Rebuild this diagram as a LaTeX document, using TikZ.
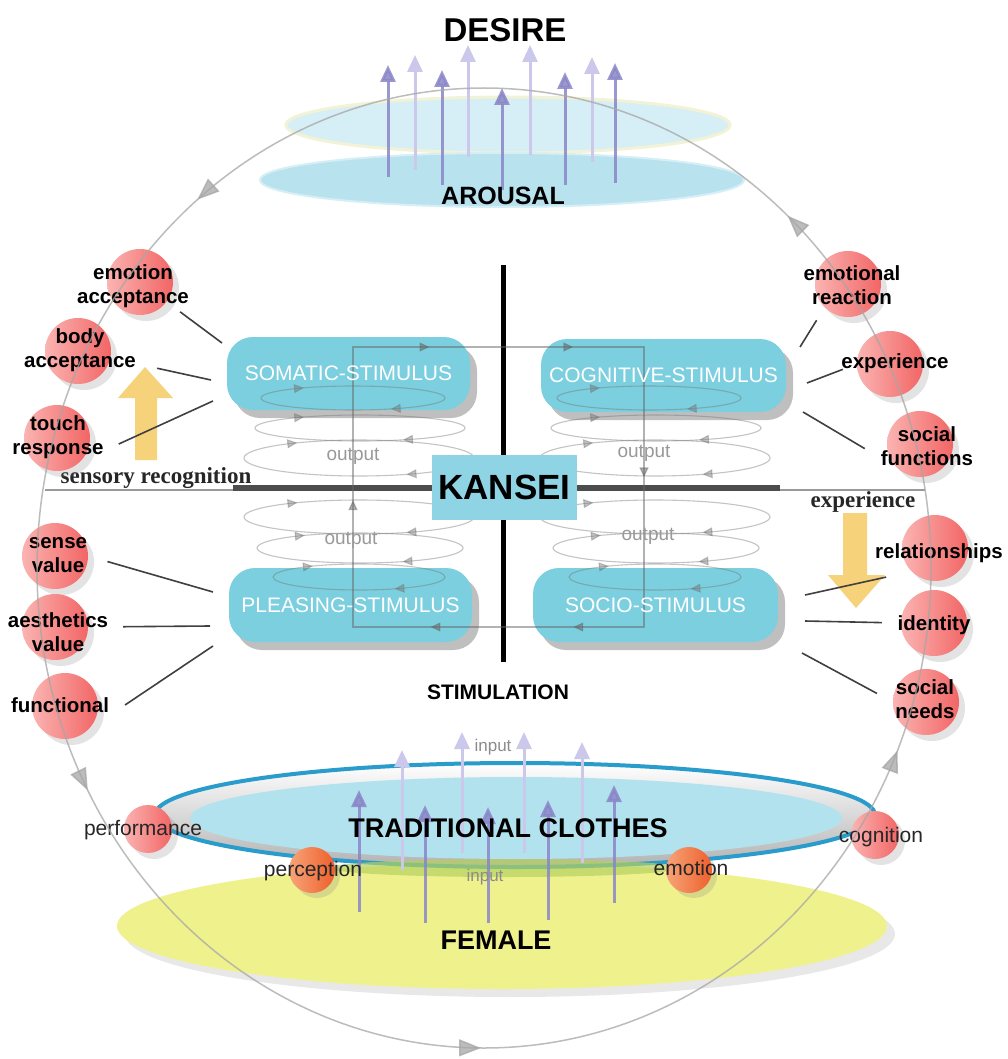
\documentclass[tikz,border=0pt]{standalone}
\usepackage{fontspec}
\setmainfont{Liberation Sans}
\newfontfamily\serifbf{Liberation Serif}
\usetikzlibrary{arrows.meta,shadows,decorations.markings}
\definecolor{boxc}{HTML}{7CCFDF}
\definecolor{kanc}{HTML}{8FD4E5}
\definecolor{pinkL}{HTML}{FAB4B2}
\definecolor{pinkR}{HTML}{F26565}
\definecolor{orgL}{HTML}{F7A478}
\definecolor{orgR}{HTML}{EE5F2C}
\definecolor{topup}{HTML}{D6EEF5}
\definecolor{toprim}{HTML}{F2F2D6}
\definecolor{toplow}{HTML}{B8E2EE}
\definecolor{purD}{HTML}{8A86C8}
\definecolor{purL}{HTML}{CBC8EC}
\definecolor{yelc}{HTML}{EFF28C}
\definecolor{ringb}{HTML}{2A9CCB}
\definecolor{innb}{HTML}{B3E2EF}
\definecolor{yarr}{HTML}{F6D27A}
\definecolor{greenb}{HTML}{B5D060}
\begin{document}
\begin{tikzpicture}[x=1pt,y=-1pt,
  ball/.style={circle, minimum size=66pt, inner sep=0pt, left color=pinkL, right color=pinkR,
    drop shadow={shadow xshift=6pt, shadow yshift=-6pt, opacity=.22}},
  sball/.style={ball, minimum size=48pt},
  oball/.style={circle, minimum size=46pt, inner sep=0pt, left color=orgL, right color=orgR,
    drop shadow={shadow xshift=5pt, shadow yshift=-5pt, opacity=.22}},
  plabel/.style={font=\fontsize{20.5}{24}\selectfont\bfseries, align=center, inner sep=0pt, text=black},
  stim/.style={rounded corners=26pt, fill=boxc, minimum width=243pt, minimum height=73pt,
    drop shadow={shadow xshift=7pt, shadow yshift=-8pt, opacity=.5}},
  stimtext/.style={font=\fontsize{21}{24}\selectfont, text=white, inner sep=0pt},
  conn/.style={draw=black!75, line width=1.6pt},
  loopst/.style={draw=black!55, line width=1.1pt, opacity=.42, postaction={decorate},
    decoration={markings,
      mark=at position 0.15 with {\arrow{Triangle[length=10pt,width=9pt]}},
      mark=at position 0.62 with {\arrow{Triangle[length=10pt,width=9pt]}}}},
  rectst/.style={draw=black!60, line width=1.2pt, opacity=.5, postaction={decorate},
    decoration={markings,
      mark=at position 0.067 with {\arrow{Triangle[length=10pt,width=9pt]}},
      mark=at position 0.193 with {\arrow{Triangle[length=10pt,width=9pt]}},
      mark=at position 0.369 with {\arrow{Triangle[length=10pt,width=9pt]}},
      mark=at position 0.562 with {\arrow{Triangle[length=10pt,width=9pt]}},
      mark=at position 0.687 with {\arrow{Triangle[length=10pt,width=9pt]}},
      mark=at position 0.866 with {\arrow{Triangle[length=10pt,width=9pt]}}}},
  bigc/.style={draw=black!35, line width=1.5pt, opacity=.75, postaction={decorate},
    decoration={markings,
      mark=at position 0.064 with {\arrowreversed{Triangle[length=22pt,width=17pt]}},
      mark=at position 0.251 with {\arrowreversed{Triangle[length=22pt,width=17pt]}},
      mark=at position 0.421 with {\arrowreversed{Triangle[length=22pt,width=17pt]}},
      mark=at position 0.642 with {\arrowreversed{Triangle[length=22pt,width=17pt]}},
      mark=at position 0.866 with {\arrowreversed{Triangle[length=22pt,width=17pt]}}}},
  pup/.style={line width=3pt, -{Triangle[length=17pt,width=15pt]}},
  outl/.style={font=\fontsize{19}{22}\selectfont, text=black!40, inner sep=0pt},
  inl/.style={font=\fontsize{17}{20}\selectfont, text=black!45, inner sep=0pt},
  title/.style={font=\fontsize{#1}{#1}\selectfont\bfseries, inner sep=0pt, text=black},
  small/.style={font=\fontsize{21}{24}\selectfont, inner sep=0pt, text=black!85},
  serl/.style={font=\fontsize{23}{26}\selectfont\serifbf\bfseries, inner sep=0pt, text=black!85},
]
\useasboundingbox[fill=white] (0,0) rectangle (1008,1059);

% ---------- top: arousal / desire ----------
\path[fill=topup, draw=toprim, line width=3pt] (508,125) ellipse [x radius=222, y radius=28];
\path[fill=toplow, draw=topup, line width=2pt] (502,180) ellipse [x radius=242, y radius=27];
\foreach \x/\a/\b in {415/170/55, 468/157/45, 530/155/45, 592/162/57}
  \draw[pup, purL] (\x,\a) -- (\x,\b);
\foreach \x/\a/\b in {388/177/65, 442/185/70, 502/190/88, 565/185/72, 615/183/63}
  \draw[pup, purD, opacity=.85] (\x,\a) -- (\x,\b);
\node[title=33] (desire) at (505,30) {DESIRE};
\node[title=25] (arousal) at (503,196) {AROUSAL};

% ---------- yellow arrows ----------
\fill[yarr] (135,460) -- (135,398) -- (118,398) -- (145,367) -- (173,398) -- (157,398) -- (157,460) -- cycle;
\fill[yarr] (843,513) -- (867,513) -- (867,575) -- (885,575) -- (856,608) -- (828,575) -- (843,575) -- cycle;

% ---------- cross ----------
\draw[black!40, line width=1.5pt] (45,490) -- (925,490);
\draw[black!70, line width=6pt] (233,488) -- (780,488);
\draw[black, line width=5pt] (503,265) -- (503,662);

% ---------- stimulus boxes ----------
\node[stim] (somatic) at (348.5,373.5) {};
\node[stim, minimum width=245pt] (cognitive) at (663.5,375.5) {};
\node[stim, minimum height=74pt] (pleasing) at (350.5,605) {};
\node[stim, minimum width=245pt, minimum height=74pt] (socio) at (655.5,605) {};

% loops
\foreach \dx in {0,296}{
  \draw[loopst] (353+\dx,398) ellipse [x radius=92, y radius=12];
  \draw[loopst] (360+\dx,428) ellipse [x radius=105, y radius=13];
  \draw[loopst] (359+\dx,458) ellipse [x radius=115, y radius=18];
  \draw[loopst] (359+\dx,517) ellipse [x radius=115, y radius=17];
  \draw[loopst] (360+\dx,548) ellipse [x radius=103, y radius=15];
  \draw[loopst] (359+\dx,577) ellipse [x radius=86, y radius=13];
}
\draw[rectst] (353,347) -- (644,347) -- (644,627) -- (353,627) -- cycle;

\node[stimtext] (somT) at (somatic) {SOMATIC-STIMULUS};
\node[stimtext] (cogT) at (cognitive) {COGNITIVE-STIMULUS};
\node[stimtext] (pleT) at (pleasing) {PLEASING-STIMULUS};
\node[stimtext] (socT) at (socio) {SOCIO-STIMULUS};

\node[outl] (o1) at (353,456) {output};
\node[outl] (o2) at (351,540) {output};
\node[outl] (o3) at (644,453) {output};
\node[outl] (o4) at (648,536) {output};

\node[fill=kanc, minimum width=145pt, minimum height=65pt, inner sep=0pt,
  font=\fontsize{35}{35}\selectfont\bfseries] (kansei) at (504.5,487.5) {KANSEI};

\node[title=21] (stim) at (498,692) {STIMULATION};
\node[serl] (sensrec) at (156,478) {sensory recognition};
\node[serl] (expl) at (863,502) {experience};

% ---------- pink nodes ----------
\node[ball] (ea) at (140,282) {};
\node[ball] (ba) at (78,351) {};
\node[ball] (tr) at (57,438) {};
\node[ball] (sv) at (55,556) {};
\node[ball] (av) at (55,627) {};
\node[ball] (fn) at (65,706) {};
\node[ball] (er) at (848,284) {};
\node[ball] (ex) at (890,364) {};
\node[ball] (sf) at (920,444) {};
\node[ball] (rl) at (935,548) {};
\node[ball] (id) at (934,623) {};
\node[ball] (sn) at (926,702) {};

\node[plabel] (eaT) at (133,286) {emotion\\acceptance};
\node[plabel] (baT) at (80,350) {body\\acceptance};
\node[plabel] (trT) at (58,437) {touch\\response};
\node[plabel] (svT) at (58,555) {sense\\value};
\node[plabel] (avT) at (58,632) {aesthetics\\value};
\node[plabel] (fnT) at (60,705) {functional};
\node[plabel] (erT) at (852,285) {emotional\\reaction};
\node[plabel] (exT) at (895,363) {experience};
\node[plabel] (sfT) at (927,446) {social\\functions};
\node[plabel] (rlT) at (939,553) {relationships};
\node[plabel] (idT) at (934,625) {identity};
\node[plabel] (snT) at (925,699) {social\\needs};

% connector end points at the boxes
\coordinate (pA) at (222,343);
\coordinate (pB) at (211,380);
\coordinate (pC) at (213,401);
\coordinate (pD) at (213,592);
\coordinate (pE) at (210,626);
\coordinate (pF) at (213,646);
\coordinate (pG) at (800,347);
\coordinate (pH) at (807,383);
\coordinate (pI) at (803,412);
\coordinate (pJ) at (805,595);
\coordinate (pK) at (805,621);
\coordinate (pL) at (802,653);

\draw[conn, shorten <=50pt] (ea.center) -- (pA);
\draw[conn, shorten <=81pt] (ba.center) -- (pB);
\draw[conn, shorten <=42pt] (tr.south east) -- (pC);
\draw[conn, shorten <=20pt] (sv.east) -- (pD);
\draw[conn, shorten <=35pt] (av.east) -- (pE);
\draw[conn, shorten <=44pt] (fn.south east) -- (pF);
\draw[conn, shorten <=15pt] (er.south west) -- (pG);
\draw[conn, shorten <=15pt] (ex.west) -- (pH);
\draw[conn, shorten <=37pt] (sf.south west) -- (pI);
\draw[conn, shorten <=26pt] (rl.south west) -- (pJ);
\draw[conn, shorten <=19pt] (id.west) -- (pK);
\draw[conn, shorten <=18pt] (sn.west) -- (pL);

% ---------- bottom: female / traditional clothes ----------
\path[fill=yelc, drop shadow={shadow xshift=8pt, shadow yshift=-8pt, opacity=.18}] (502,926) ellipse [x radius=385, y radius=63];
\path[draw=ringb, line width=4pt, top color=white, bottom color=black!30] (515,815) ellipse [x radius=360, y radius=52];
\fill[innb] (516,818) ellipse [x radius=326, y radius=41];
\fill[greenb, opacity=.7] (505,868) ellipse [x radius=175, y radius=9];

\foreach \x/\a/\b in {402/870/750, 462/853/732, 524/853/732, 582/863/742}
  \draw[pup, purL] (\x,\a) -- (\x,\b);
\foreach \x/\a/\b in {359/912/790, 425/923/805, 488/923/807, 548/920/800, 614/903/785}
  \draw[pup, purD, opacity=.85] (\x,\a) -- (\x,\b);

\node[sball] (perfB) at (148,829) {};
\node[sball] (cogB) at (875,835) {};
\node[oball] (percB) at (312,870) {};
\node[oball] (emoB) at (689,870) {};

\node[title=27] (trad) at (508,828) {TRADITIONAL CLOTHES};
\node[title=27] (female) at (496,940) {FEMALE};
\node[small] (perfT) at (143,830) {performance};
\node[small] (cogT2) at (881,837) {cognition};
\node[small] (percT) at (313,871) {perception};
\node[small] (emoT) at (691,868) {emotion};
\node[inl] (in1) at (493,747) {input};
\node[inl] (in2) at (485,877) {input};

% ---------- big cycle ----------
\draw[bigc] (484,568) ellipse [x radius=447, y radius=480];
\end{tikzpicture}
\end{document}
